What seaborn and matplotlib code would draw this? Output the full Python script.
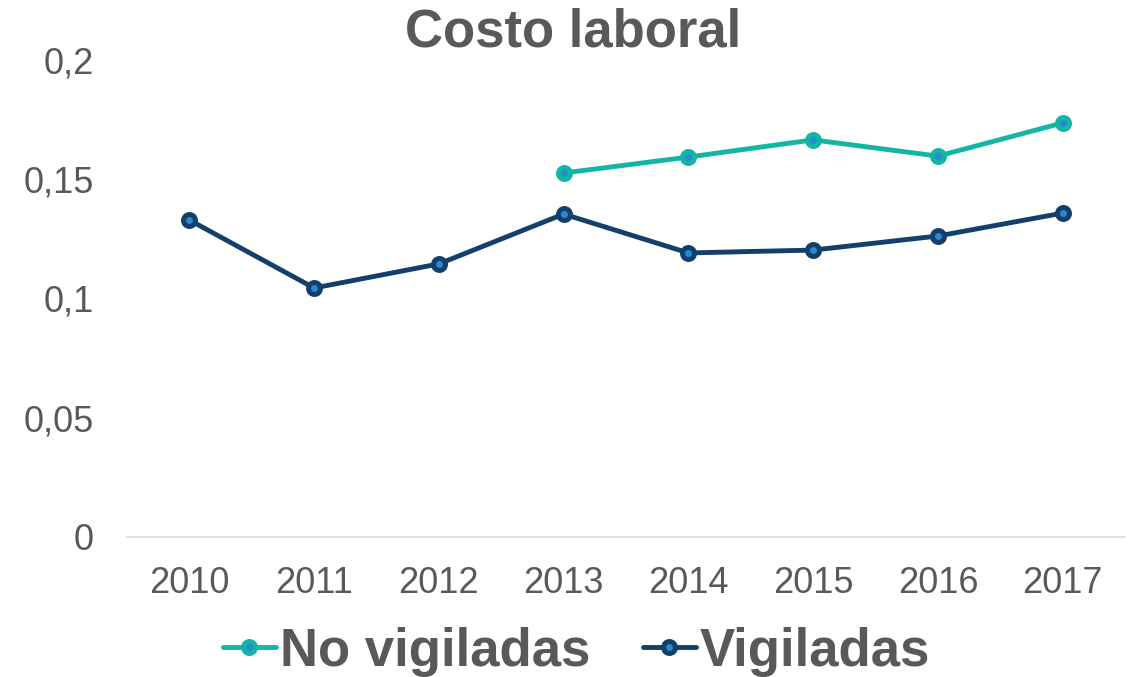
import matplotlib
matplotlib.use("Agg")
import matplotlib.pyplot as plt
import seaborn as sns
import pandas as pd
from matplotlib.lines import Line2D

years = [2010, 2011, 2012, 2013, 2014, 2015, 2016, 2017]
vigiladas = [0.1329, 0.1044, 0.1145, 0.1354, 0.1191, 0.1203, 0.1262, 0.1358]
no_vig_years = [2013, 2014, 2015, 2016, 2017]
no_vigiladas = [0.1526, 0.1593, 0.1665, 0.1597, 0.1736]
y_ticks = [0, 0.05, 0.1, 0.15, 0.2]
y_tick_labels = ["0", "0,05", "0,1", "0,15", "0,2"]
title = "Costo laboral"
series_names = ["No vigiladas", "Vigiladas"]

df = pd.concat([
    pd.DataFrame({"Año": no_vig_years, "valor": no_vigiladas, "serie": series_names[0]}),
    pd.DataFrame({"Año": years, "valor": vigiladas, "serie": series_names[1]}),
])

sns.set_theme(style="white")
plt.rcParams["font.family"] = ["Liberation Sans", "DejaVu Sans"]

gray = "#595959"
colors = {"No vigiladas": "#13B5A5", "Vigiladas": "#133F6B"}
face = "#2A8AD0"

fig = plt.figure(figsize=(11.35, 6.77), dpi=100)
ax = fig.add_axes([0.1119, 0.2068, 0.8793, 0.7046])

sns.lineplot(data=df, x="Año", y="valor", hue="serie", palette=colors,
             hue_order=series_names, ax=ax, linewidth=3.5, marker="o",
             markersize=8.6, markeredgewidth=3.6, markerfacecolor=face,
             legend=False)
for line, name in zip(ax.lines, series_names):
    line.set_markeredgecolor(colors[name])

ax.set_xlim(2009.5, 2017.5)
ax.set_ylim(0, 0.2)
ax.set_xticks(years)
ax.set_xticklabels([str(y) for y in years])
ax.set_yticks(y_ticks)
ax.set_yticklabels(y_tick_labels)
ax.tick_params(axis="both", labelsize=26, colors=gray, length=0)
ax.tick_params(axis="x", pad=21)
ax.tick_params(axis="y", pad=24)
ax.set_xlabel("")
ax.set_ylabel("")
for s in ["left", "right", "top"]:
    ax.spines[s].set_visible(False)
ax.spines["bottom"].set_color("#D9D9D9")
ax.spines["bottom"].set_linewidth(1.2)
ax.grid(False)

fig.text(0.505, 0.952, title, ha="center", va="center", fontsize=38,
         fontweight="bold", color=gray)

handles = [Line2D([0], [0], color=colors[n], linewidth=3.5, marker="o",
                  markersize=8.6, markeredgewidth=3.6, markerfacecolor=face,
                  markeredgecolor=colors[n]) for n in series_names]
leg = fig.legend(handles, series_names, loc="center",
                 bbox_to_anchor=(0.508, 0.037), ncol=2, frameon=False,
                 prop={"size": 38, "weight": "bold"}, handlelength=1.0,
                 handletextpad=0.08, columnspacing=1.0)
for t in leg.get_texts():
    t.set_color(gray)

fig.savefig("out.png", dpi=100)
